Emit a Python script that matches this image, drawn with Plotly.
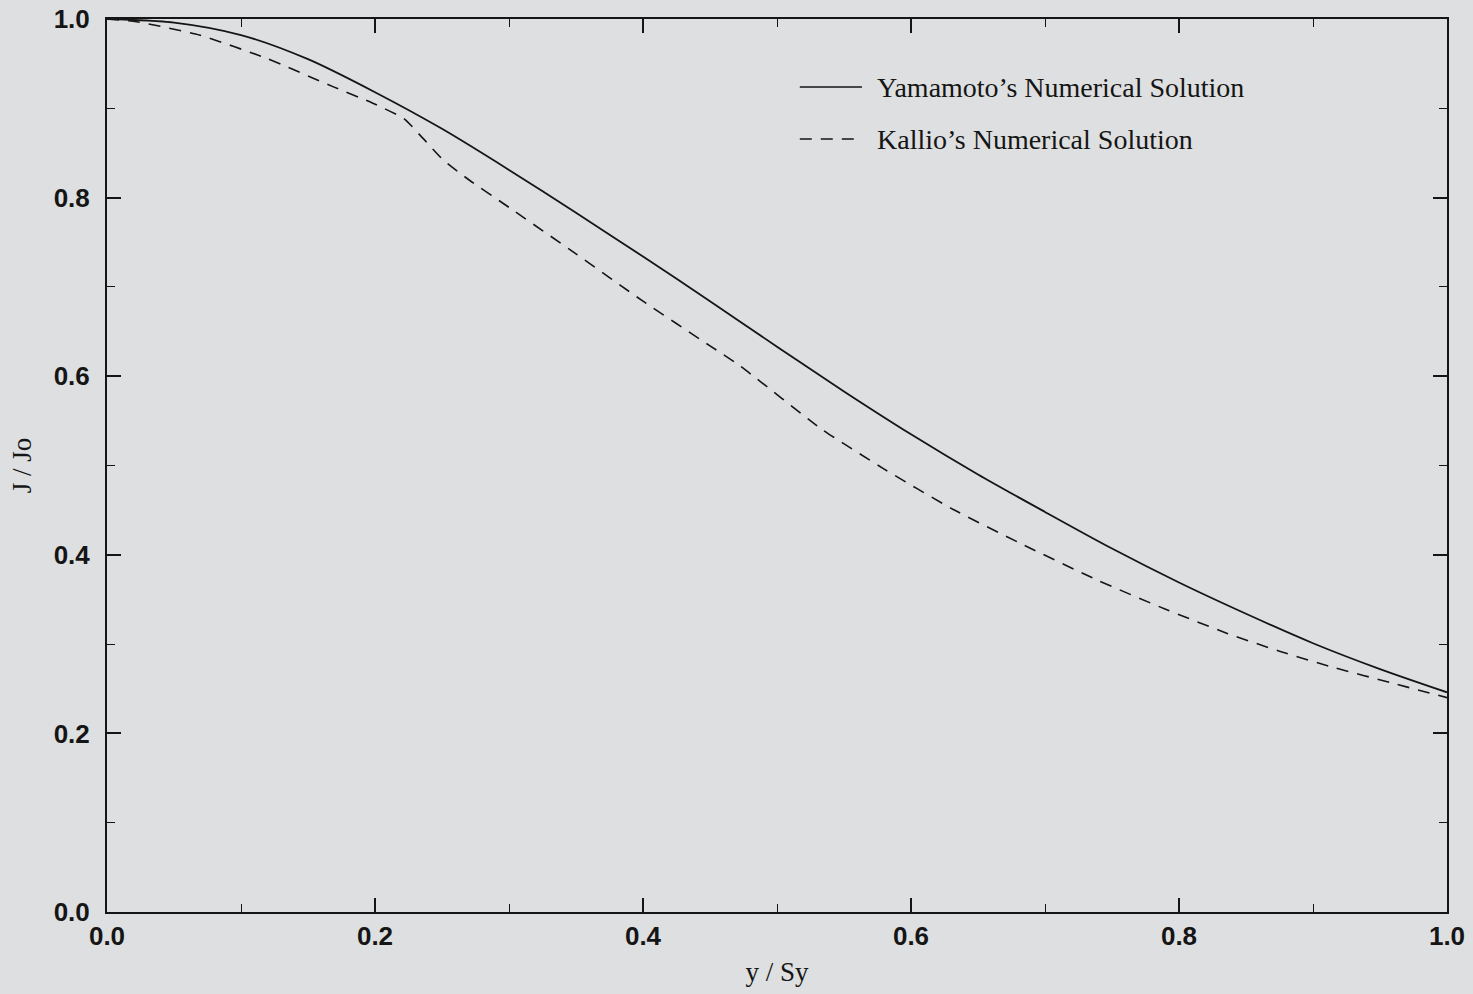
import plotly.graph_objects as go

# Yamamoto's numerical solution (solid)
yam_x = [0.0, 0.05, 0.10, 0.15, 0.20, 0.25, 0.30, 0.35, 0.40, 0.45, 0.50,
         0.55, 0.60, 0.65, 0.70, 0.75, 0.80, 0.85, 0.90, 0.95, 1.00]
yam_y = [1.000, 0.996, 0.982, 0.955, 0.918, 0.877, 0.831, 0.783, 0.734, 0.684, 0.633,
         0.583, 0.535, 0.490, 0.448, 0.407, 0.369, 0.334, 0.301, 0.272, 0.246]

# Kallio's numerical solution (dashed)
kal_x = [0.0, 0.022, 0.069, 0.119, 0.169, 0.198, 0.222, 0.236, 0.251, 0.27, 0.30, 0.35,
         0.40, 0.45, 0.472, 0.534, 0.58, 0.63, 0.68, 0.74, 0.79, 0.836, 0.875, 0.915,
         0.96, 1.0]
kal_y = [1.000, 0.997, 0.982, 0.956, 0.924, 0.906, 0.888, 0.866, 0.842, 0.820, 0.789, 0.737,
         0.684, 0.634, 0.612, 0.540, 0.496, 0.452, 0.414, 0.371, 0.339, 0.312, 0.292, 0.274,
         0.256, 0.240]

series_names = ["Yamamoto\u2019s Numerical Solution", "Kallio\u2019s Numerical Solution"]
tick_vals = [0.0, 0.2, 0.4, 0.6, 0.8, 1.0]
tick_text = ["0.0", "0.2", "0.4", "0.6", "0.8", "1.0"]

BG = "#dedfe0"
INK = "#151515"
DASH = "12px,9px"

fig = go.Figure()
fig.add_trace(go.Scatter(x=yam_x, y=yam_y, mode="lines", name=series_names[0],
                         line=dict(color=INK, width=1.8, shape="spline", smoothing=0.8),
                         showlegend=False))
fig.add_trace(go.Scatter(x=kal_x, y=kal_y, mode="lines", name=series_names[1],
                         line=dict(color=INK, width=1.6, dash=DASH, shape="spline", smoothing=0.5),
                         showlegend=False))

axis_common = dict(
    range=[0, 1], tickvals=tick_vals, ticktext=tick_text,
    ticks="inside", ticklen=14, tickwidth=1.6, tickcolor=INK,
    showline=True, linecolor=INK, linewidth=2, mirror="ticks",
    showgrid=False, zeroline=False, automargin=False,
    tickfont=dict(family="Liberation Sans, Arial", size=26, color=INK, weight="bold"),
    minor=dict(dtick=0.1, ticks="inside", ticklen=8, tickwidth=1.4, tickcolor=INK, showgrid=False),
)

fig.update_xaxes(**axis_common,
                 title=dict(text="y / Sy", font=dict(family="Liberation Serif, Times New Roman", size=27, color=INK), standoff=12))
fig.update_yaxes(**axis_common, ticklabelstandoff=10,
                 title=dict(text="J / Jo", font=dict(family="Liberation Serif, Times New Roman", size=27, color=INK), standoff=14))

# Legend drawn in paper coordinates
legend_rows = [(0.9238, "solid"), (0.8656, DASH)]
for (yy, dash), name in zip(legend_rows, series_names):
    fig.add_shape(type="line", xref="paper", yref="paper", x0=0.517, x1=0.5634, y0=yy, y1=yy,
                  line=dict(color=INK, width=1.6, dash=dash))
    fig.add_annotation(xref="paper", yref="paper", x=0.5735, y=yy, text=name, showarrow=False,
                       xanchor="left", yanchor="middle",
                       font=dict(family="Liberation Serif, Times New Roman", size=28, color=INK))

fig.update_layout(
    width=1473, height=994,
    margin=dict(l=107, r=26, t=19, b=82),
    paper_bgcolor=BG, plot_bgcolor=BG,
    showlegend=False,
)

fig.write_html("out.html", config={"displayModeBar": False},
               post_script="document.body.style.margin='0';document.body.style.overflow='hidden';"
                           "document.body.style.background='" + BG + "';")
